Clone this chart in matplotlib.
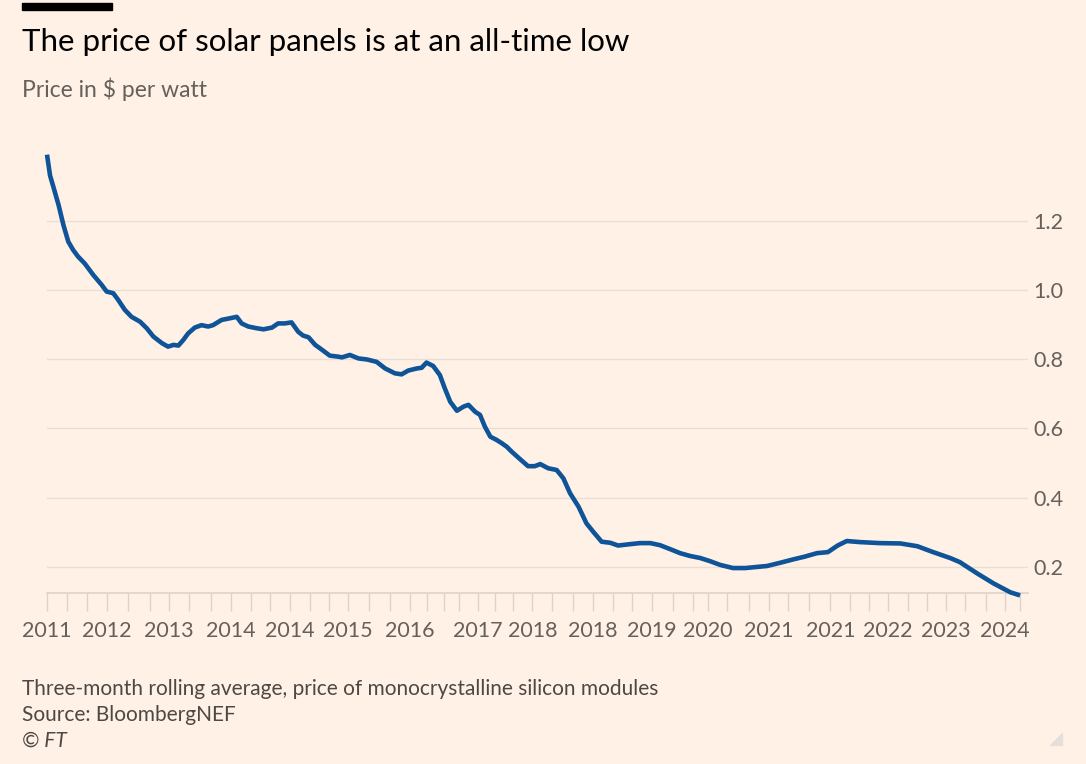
import matplotlib
matplotlib.use("Agg")
from matplotlib import pyplot as plt
from matplotlib.patches import Rectangle, Polygon

# months since the start of the series
months = [
    0, 0.5, 1.0, 1.9, 2.7, 3.5, 4.3, 5.1, 6.2, 7.6, 9.0, 9.8, 10.9, 11.7,
    12.8, 13.9, 15.3, 16.4, 17.5, 18.9, 19.9, 20.8, 21.6, 22.4, 23.2, 24.3,
    25.4, 26.5, 27.3, 28.7, 30.1, 31.2, 32.0, 33.1, 34.5, 35.6, 37.0, 38.0,
    39.1, 40.2, 41.3, 42.1, 43.0, 44.1, 44.9, 46.5, 47.9, 48.5, 49.8, 51.2,
    52.6, 54.2, 55.6, 57.2, 58.3, 59.4, 60.8, 61.6, 62.4, 63.5, 64.6, 65.4,
    66.3, 67.4, 68.5, 69.3, 70.4, 71.2, 72.0, 72.9, 73.9, 74.8, 75.6, 76.4,
    77.8, 79.1, 80.2, 81.1, 82.4, 83.8, 84.9, 86.0, 87.4, 88.7, 89.8, 91.2,
    92.6, 93.9, 95.9, 97.5, 99.2, 100.8, 102.4, 104.1, 105.7, 107.4, 109.0,
    110.7, 112.8, 114.8, 118.4, 120.5, 122.7, 124.6, 126.6, 128.4, 130.0,
    131.5, 133.6, 136.9, 140.3, 143.1, 145.7, 148.5, 150.1, 152.9, 155.6,
    158.4, 160.0,
]
price = [
    1.39, 1.33, 1.30, 1.245, 1.187, 1.139, 1.115, 1.096, 1.076, 1.043, 1.014,
    0.995, 0.99, 0.971, 0.942, 0.922, 0.908, 0.889, 0.865, 0.846, 0.836,
    0.841, 0.839, 0.855, 0.874, 0.891, 0.898, 0.894, 0.898, 0.913, 0.918,
    0.922, 0.903, 0.894, 0.889, 0.886, 0.891, 0.903, 0.903, 0.906, 0.879,
    0.868, 0.863, 0.841, 0.831, 0.81, 0.807, 0.805, 0.812, 0.802, 0.799,
    0.792, 0.773, 0.759, 0.756, 0.767, 0.773, 0.775, 0.79, 0.78, 0.754,
    0.716, 0.677, 0.651, 0.663, 0.668, 0.648, 0.639, 0.605, 0.576, 0.567,
    0.557, 0.547, 0.533, 0.511, 0.491, 0.491, 0.497, 0.485, 0.48, 0.456,
    0.413, 0.374, 0.326, 0.302, 0.273, 0.27, 0.262, 0.266, 0.269, 0.269,
    0.263, 0.252, 0.24, 0.232, 0.226, 0.217, 0.206, 0.197, 0.197, 0.203,
    0.212, 0.222, 0.23, 0.24, 0.243, 0.262, 0.275, 0.272, 0.269, 0.268,
    0.26, 0.243, 0.226, 0.214, 0.182, 0.153, 0.127, 0.118,
]

# x-axis ticks (irregular in the original) and the labelled ones
tick_months = [
    0, 3.3, 6.6, 9.9, 13.3, 16.9, 20.1, 23.4, 27.0, 30.3, 33.6, 36.7, 40.0,
    43.3, 46.4, 49.5, 53.0, 56.4, 59.7, 62.5, 65.3, 67.8, 70.9, 73.7, 76.6,
    79.8, 83.0, 86.5, 89.8, 93.1, 96.2, 99.5, 102.9, 106.2, 108.7, 111.8,
    115.4, 118.7, 121.9, 125.3, 128.8, 132.1, 135.2, 138.3, 141.6, 144.7,
    147.8, 151.0, 154.4, 157.5, 160.0,
]
label_ticks = [0, 3, 6, 9, 12, 15, 18, 22, 25, 28, 31, 34, 37, 40, 43, 46, 49]
year_labels = [
    "2011", "2012", "2013", "2014", "2014", "2015", "2016", "2017", "2018",
    "2018", "2019", "2020", "2021", "2021", "2022", "2023", "2024",
]
y_ticks = [0.2, 0.4, 0.6, 0.8, 1.0, 1.2]
y_labels = ["0.2", "0.4", "0.6", "0.8", "1.0", "1.2"]

BG = "#FFF1E5"
LINE = "#0F5499"
GREY = "#66605C"
GRID = "#E9DED4"
AXIS = "#DDD3CA"

plt.rcParams["font.family"] = ["Lato", "DejaVu Sans"]

W, H = 1086, 764
fig = plt.figure(figsize=(W / 100, H / 100), dpi=100, facecolor=BG)
ax = fig.add_axes([47 / W, 1 - 593 / H, (1028 - 47) / W, (593 - 151.2) / H])
ax.set_facecolor(BG)

ax.plot(months, price, color=LINE, linewidth=3.3, solid_capstyle="butt",
        solid_joinstyle="round", clip_on=False, zorder=3)

ax.set_xlim(0, 161.3)
ax.set_ylim(0.125, 1.40)

# labelled ticks are major, the rest are minor marks
ax.set_xticks([tick_months[i] for i in label_ticks])
ax.set_xticklabels(year_labels)
ax.set_xticks(tick_months, minor=True)
ax.tick_params(axis="x", which="both", length=13, width=1, color=AXIS)
ax.tick_params(axis="x", which="major", pad=7, labelsize=15.5,
               labelcolor=GREY)

ax.set_yticks(y_ticks)
ax.set_yticklabels(y_labels)
ax.yaxis.tick_right()
ax.tick_params(axis="y", length=0, pad=4, labelsize=15.5, labelcolor=GREY)

ax.grid(axis="y", color=GRID, linewidth=1)
for side in ["top", "left", "right"]:
    ax.spines[side].set_visible(False)
ax.spines["bottom"].set_color(AXIS)
ax.spines["bottom"].set_linewidth(1.2)

# header
fig.patches.append(Rectangle((22 / W, 1 - 10 / H), 90 / W, 7 / H,
                             transform=fig.transFigure, color="black"))
fig.text(22 / W, 1 - 51 / H, "The price of solar panels is at an all-time low",
         fontsize=22.5, color="black", va="baseline", ha="left")
fig.text(22 / W, 1 - 97 / H, "Price in $ per watt", fontsize=16.5,
         color=GREY, va="baseline", ha="left")

# footer
fig.text(22 / W, 1 - 695 / H,
         "Three-month rolling average, price of monocrystalline silicon modules",
         fontsize=15, color="#4D4845", va="baseline", ha="left")
fig.text(22 / W, 1 - 721 / H, "Source: BloombergNEF", fontsize=15,
         color="#4D4845", va="baseline", ha="left")
fig.text(22 / W, 1 - 747 / H, "© FT", fontsize=15, color="#4D4845",
         style="italic", va="baseline", ha="left")

fig.patches.append(Polygon([(1050 / W, 1 - 745 / H), (1062 / W, 1 - 745 / H),
                            (1062 / W, 1 - 733 / H)], closed=True,
                           transform=fig.transFigure, color="#E6E0DC"))

fig.savefig("out.png", dpi=100, facecolor=BG)
